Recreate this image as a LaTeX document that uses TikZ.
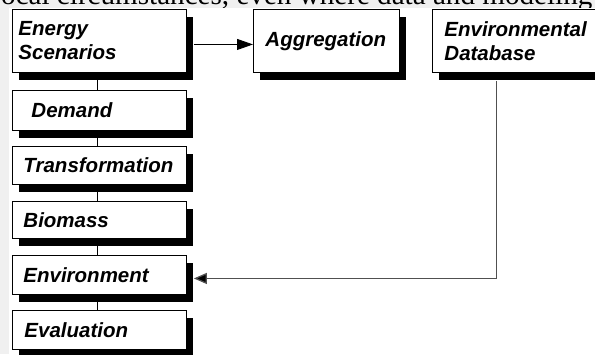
\documentclass[tikz,border=0pt]{standalone}
\usepackage{fontspec}
\usepackage{graphicx}
\usetikzlibrary{shadows,arrows.meta,backgrounds}
\newfontfamily\boxfontfam{Liberation Sans}
\newfontfamily\seriffam{Liberation Serif}
\newcommand{\boxfont}{\boxfontfam\bfseries\itshape\fontsize{20.5}{24}\selectfont}
\definecolor{bggray}{HTML}{F0F0F0}
\definecolor{arrgray}{HTML}{505050}
\tikzset{
  box/.style={draw=black, line width=0.9pt, fill=white, anchor=north west,
    inner ysep=0pt, align=left, font=\boxfont,
    drop shadow={shadow xshift=7pt, shadow yshift=-8pt, opacity=1, fill=black}},
  link/.style={draw=black, line width=0.8pt},
  bigarrow/.style={draw=black, line width=0.9pt, -{Triangle[length=16pt,width=11pt]}},
  grayarrow/.style={draw=arrgray, line width=1.3pt, -{Triangle[length=13pt,width=11pt,fill=black]}}
}
\begin{document}
\begin{tikzpicture}[x=1pt,y=-1pt]
\useasboundingbox (0,0) rectangle (595,354);
% nodes
\node[box, text width=162pt, inner xsep=6pt, minimum height=63pt] (es) at (12,9) {Energy\\Scenarios};
\node[box, text width=122pt, inner xsep=12pt, minimum height=63pt] (agg) at (253,9) {Aggregation};
\node[box, text width=146pt, inner xsep=12pt, minimum height=63pt] (edb) at (432,9) {Environmental\\Database};
\node[box, text width=136pt, inner xsep=19pt, minimum height=40pt] (dem) at (12,90) {Demand};
\node[box, text width=152pt, inner xsep=11pt, minimum height=38pt] (tra) at (12,146) {Transformation};
\node[box, text width=152pt, inner xsep=11pt, minimum height=37pt] (bio) at (12,201) {Biomass};
\node[box, text width=152pt, inner xsep=11pt, minimum height=39pt] (env) at (12,255) {Environment};
\node[box, text width=150pt, inner xsep=12pt, minimum height=39pt] (eva) at (12,310) {Evaluation};
% background
\begin{scope}[on background layer]
  \fill[bggray] (0,0) rectangle (595,354);
  \begin{scope}
    \clip (0,0) rectangle (595,354);
    \node[anchor=base west, inner sep=0pt] (toptext) at (1,4)
      {\resizebox{591pt}{!}{\seriffam ocal circumstances, even where data and modeling}};
  \end{scope}
  \fill[white] (9,8) rectangle (595,354);
  \draw[link] ([xshift=-2pt]es.south) -- ([xshift=-2pt]dem.north);
  \draw[link] ([xshift=-2pt]dem.south) -- ([xshift=-2pt]tra.north);
  \draw[link] ([xshift=-2pt]tra.south) -- ([xshift=-2pt]bio.north);
  \draw[link] ([xshift=-2pt]bio.south) -- ([xshift=-2pt]env.north);
  \draw[link] ([xshift=-2pt]env.south) -- ([xshift=-2pt]eva.north);
\end{scope}
% arrows
\draw[bigarrow] ([xshift=7pt,yshift=-3.5pt]es.east) -- ([yshift=-3.5pt]agg.west);
\draw[grayarrow] ([xshift=-21pt,yshift=-8pt]edb.south) |- ([xshift=7pt,yshift=-3.5pt]env.east);
\end{tikzpicture}
\end{document}
